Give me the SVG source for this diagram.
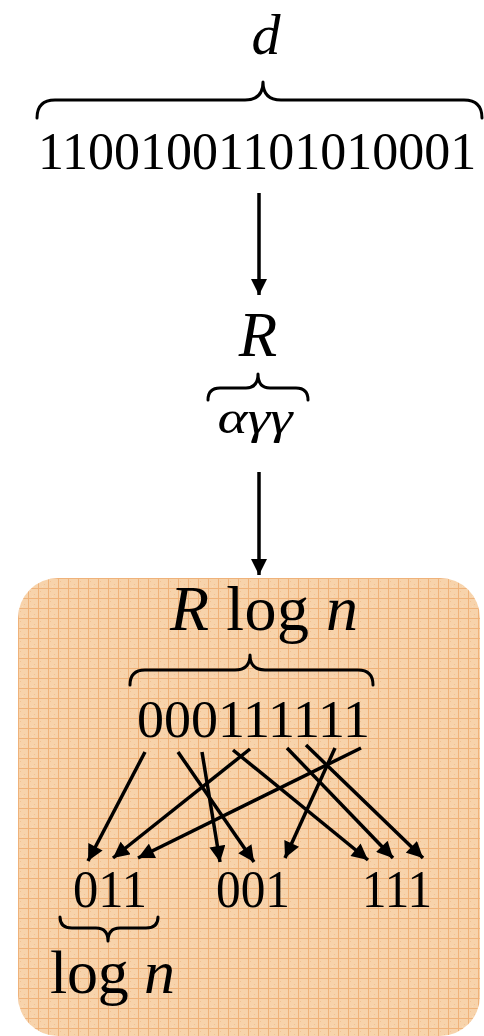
<svg xmlns="http://www.w3.org/2000/svg" width="484" height="1036" viewBox="0 0 484 1036">
<style>
.t{font-family:"Liberation Serif","Times New Roman",serif;fill:#000}
.i{font-style:italic}
.br{fill:none;stroke:#000;stroke-width:3;stroke-linecap:round;stroke-linejoin:round}
.ed{stroke:#000;stroke-width:3.5;fill:none}
</style>
<defs>
<marker id="ah" viewBox="0 0 10 10" refX="10" refY="5" markerWidth="4.8" markerHeight="4.6" orient="auto" markerUnits="strokeWidth">
<path d="M0,0 L10,5 L0,10 z" fill="#000"/>
</marker>
<pattern id="grid" width="10" height="10" patternUnits="userSpaceOnUse" x="18" y="578">
<rect width="10" height="10" fill="#f7d3ab"/>
<rect x="2" y="3" width="1" height="1" fill="#f3c293"/>
<rect x="6" y="6" width="1" height="1" fill="#f3c293"/>
<rect x="4" y="8" width="1" height="1" fill="#fadcbc"/>
<path d="M0,0.5 H10 M0.5,0 V10" stroke="#efb27a" stroke-width="1"/>
</pattern>
</defs>

<g id="box">
<rect x="18" y="578" width="462" height="458" rx="40" ry="40" fill="url(#grid)"/>
</g>

<g id="top">
<text class="t i" x="266" y="54" font-size="58" text-anchor="middle">d</text>
<path class="br" d="M37,118 Q37,100 55,100 L245,100 Q263,100 263,82 Q263,100 281,100 L464,100 Q482,100 482,118"/>
<text class="t" x="38" y="169" font-size="52">11001001101010001</text>
</g>

<g id="middle">
<text class="t i" x="258" y="356" font-size="63" text-anchor="middle">R</text>
<path class="br" d="M208,400 Q208,388 220,388 L246,388 Q258,388 258,374 Q258,388 270,388 L296,388 Q308,388 308,400"/>
<text class="t i" x="255" y="433" font-size="46" text-anchor="middle" textLength="75" lengthAdjust="spacingAndGlyphs">αγγ</text>
</g>

<g id="inner">
<text class="t" x="170" y="630" font-size="64" textLength="188" lengthAdjust="spacing"><tspan class="i">R</tspan> log <tspan class="i">n</tspan></text>
<path class="br" d="M130,685 Q130,670 145,670 L235,670 Q250,670 250,655 Q250,670 265,670 L358,670 Q373,670 373,685"/>
<text class="t" x="137" y="737" font-size="52" textLength="233" lengthAdjust="spacingAndGlyphs">000111111</text>
</g>

<g id="out011">
<text class="t" x="73" y="907" font-size="52" textLength="74" lengthAdjust="spacingAndGlyphs">011</text>
<path class="br" d="M60,917 Q60,928 72,928 L96,928 Q108,928 108,941 Q108,928 120,928 L146,928 Q158,928 158,917"/>
<text class="t" x="50" y="993" font-size="62" textLength="125" lengthAdjust="spacing">log <tspan class="i">n</tspan></text>
</g>
<g id="out001">
<text class="t" x="216" y="907" font-size="52" textLength="74" lengthAdjust="spacingAndGlyphs">001</text>
</g>
<g id="out111">
<text class="t" x="362" y="907" font-size="52" textLength="70" lengthAdjust="spacingAndGlyphs">111</text>
</g>

<g id="connectors">
<line class="ed" x1="259" y1="193" x2="259" y2="295" marker-end="url(#ah)"/>
<line class="ed" x1="259" y1="472" x2="259" y2="575" marker-end="url(#ah)"/>
<line class="ed" x1="145" y1="752" x2="88" y2="861" marker-end="url(#ah)"/>
<line class="ed" x1="250" y1="749" x2="113" y2="858" marker-end="url(#ah)"/>
<line class="ed" x1="361" y1="748" x2="138" y2="858" marker-end="url(#ah)"/>
<line class="ed" x1="178" y1="752" x2="254" y2="862" marker-end="url(#ah)"/>
<line class="ed" x1="202" y1="752" x2="220" y2="862" marker-end="url(#ah)"/>
<line class="ed" x1="233" y1="750" x2="368" y2="860" marker-end="url(#ah)"/>
<line class="ed" x1="335" y1="748" x2="285" y2="858" marker-end="url(#ah)"/>
<line class="ed" x1="287" y1="748" x2="393" y2="858" marker-end="url(#ah)"/>
<line class="ed" x1="306" y1="745" x2="423" y2="858" marker-end="url(#ah)"/>
</g>
</svg>
